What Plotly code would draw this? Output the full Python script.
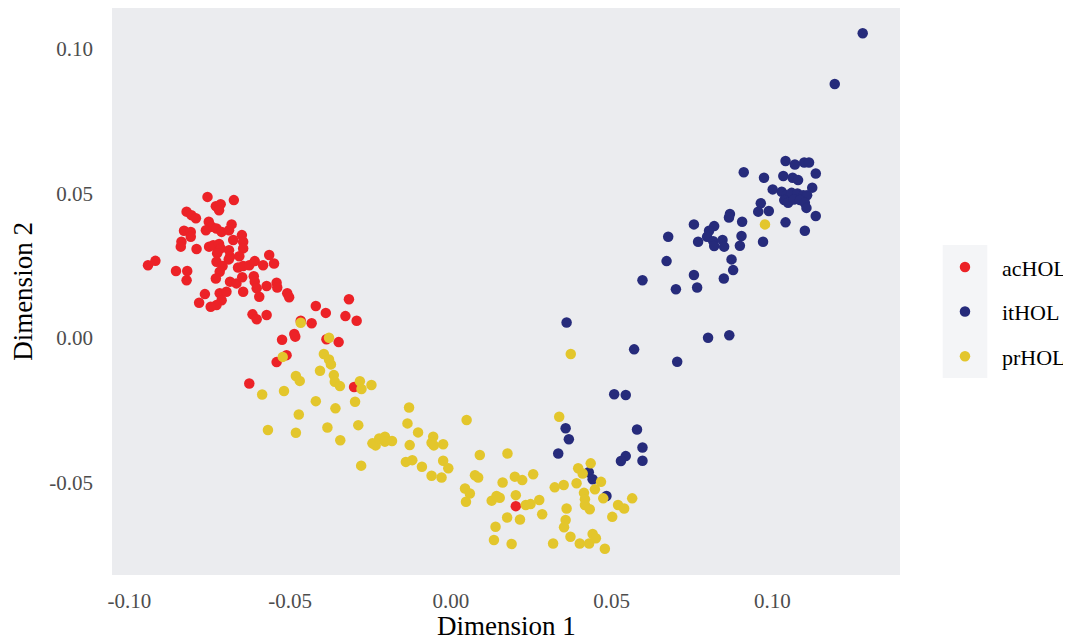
import plotly.graph_objects as go

# ---- data (Dimension 1, Dimension 2) ----
ac_x = [-0.0757, -0.0675, -0.0731, -0.0716, -0.0721, -0.0822, -0.0807, -0.0793, -0.0753, -0.0744,
        -0.0762, -0.0729, -0.0713, -0.0690, -0.0682, -0.0830, -0.0809, -0.0809, -0.0838, -0.0840,
        -0.0791, -0.0752, -0.0739, -0.0721, -0.0716, -0.0727, -0.0690, -0.0687, -0.0691, -0.0677,
        -0.0650, -0.0646, -0.0646, -0.0942, -0.0919, -0.0855, -0.0820, -0.0822, -0.0729, -0.0710,
        -0.0719, -0.0731, -0.0658, -0.0662, -0.0646, -0.0627, -0.0610, -0.0584, -0.0565, -0.0550,
        -0.0687, -0.0667, -0.0649, -0.0646, -0.0613, -0.0610, -0.0604, -0.0596, -0.0573, -0.0542,
        -0.0540, -0.0509, -0.0503, -0.0765, -0.0783, -0.0719, -0.0698, -0.0713, -0.0729, -0.0747,
        -0.0617, -0.0604, -0.0573, -0.0420, -0.0389, -0.0317, -0.0328, -0.0293, -0.0433, -0.0467,
        -0.0487, -0.0484, -0.0525, -0.0349, -0.0387, -0.0511, -0.0542, -0.0627, -0.0301, 0.0202]
ac_y = [0.0488, 0.0477, 0.0456, 0.0463, 0.0442, 0.0437, 0.0425, 0.0414, 0.0402, 0.0385,
        0.0373, 0.0379, 0.0367, 0.0373, 0.0393, 0.0371, 0.0367, 0.0350, 0.0333, 0.0316,
        0.0308, 0.0316, 0.0321, 0.0325, 0.0310, 0.0293, 0.0304, 0.0281, 0.0272, 0.0339,
        0.0356, 0.0333, 0.0310, 0.0252, 0.0267, 0.0232, 0.0232, 0.0200, 0.0264, 0.0249,
        0.0229, 0.0206, 0.0283, 0.0244, 0.0249, 0.0252, 0.0266, 0.0252, 0.0287, 0.0258,
        0.0195, 0.0189, 0.0210, 0.0160, 0.0214, 0.0195, 0.0172, 0.0143, 0.0180, 0.0191,
        0.0175, 0.0155, 0.0141, 0.0152, 0.0122, 0.0155, 0.0160, 0.0131, 0.0114, 0.0108,
        0.0082, 0.0065, 0.0080, 0.0111, 0.0087, 0.0134, 0.0076, 0.0060, 0.0051, 0.0060,
        0.0014, 0.0005, -0.0006, -0.0014, -0.0004, -0.0059, -0.0083, -0.0157, -0.0169, -0.0581]

it_x = [0.0360, 0.0570, 0.0704, 0.0508, 0.0544, 0.0357, 0.0367, 0.0334, 0.0579, 0.0596,
        0.0596, 0.0544, 0.0529, 0.0429, 0.0441, 0.0484, 0.1041, 0.1070, 0.1099, 0.1114,
        0.0911, 0.0974, 0.1034, 0.1063, 0.1080, 0.1135, 0.1001, 0.1029, 0.1044, 0.1060,
        0.1078, 0.1096, 0.1108, 0.1124, 0.1037, 0.1049, 0.1067, 0.1086, 0.1101, 0.1106,
        0.1135, 0.0964, 0.0956, 0.0989, 0.1041, 0.1101, 0.0868, 0.0865, 0.0906, 0.0756,
        0.0819, 0.0803, 0.0797, 0.0676, 0.0769, 0.0816, 0.0819, 0.0845, 0.0850, 0.0904,
        0.0899, 0.0971, 0.0873, 0.0878, 0.0849, 0.0671, 0.0596, 0.0700, 0.0756, 0.0766,
        0.0800, 0.0866, 0.1194, 0.1281]
it_y = [0.0054, -0.0039, -0.0082, -0.0194, -0.0197, -0.0312, -0.0350, -0.0399, -0.0316, -0.0378,
        -0.0424, -0.0408, -0.0425, -0.0464, -0.0488, -0.0546, 0.0612, 0.0600, 0.0607, 0.0607,
        0.0573, 0.0554, 0.0560, 0.0554, 0.0546, 0.0569, 0.0514, 0.0506, 0.0494, 0.0502,
        0.0500, 0.0494, 0.0494, 0.0520, 0.0477, 0.0468, 0.0479, 0.0477, 0.0468, 0.0450,
        0.0422, 0.0466, 0.0437, 0.0439, 0.0400, 0.0371, 0.0429, 0.0417, 0.0402, 0.0393,
        0.0387, 0.0371, 0.0350, 0.0350, 0.0333, 0.0335, 0.0318, 0.0339, 0.0316, 0.0353,
        0.0319, 0.0333, 0.0272, 0.0235, 0.0206, 0.0266, 0.0200, 0.0169, 0.0218, 0.0175,
        0.0001, 0.0010, 0.0878, 0.1054]

pr_x = [-0.0467, -0.0379, -0.0523, -0.0395, -0.0379, -0.0373, -0.0407, -0.0482, -0.0470, -0.0364,
        -0.0361, -0.0345, -0.0283, -0.0278, -0.0247, -0.0587, -0.0519, -0.0420, -0.0298, -0.0359,
        -0.0473, -0.0130, -0.0135, -0.0102, -0.0288, -0.0384, -0.0569, -0.0482, -0.0344, -0.0244,
        -0.0234, -0.0223, -0.0205, -0.0205, -0.0183, -0.0128, -0.0055, -0.0060, -0.0053, -0.0024,
        -0.0140, -0.0120, -0.0090, -0.0024, -0.0008, -0.0279, -0.0060, -0.0029, 0.0049, 0.0090,
        0.0176, 0.0075, 0.0085, 0.0044, 0.0059, 0.0047, 0.0127, 0.0142, 0.0152, 0.0161,
        0.0199, 0.0222, 0.0256, 0.0202, 0.0233, 0.0248, 0.0275, 0.0284, 0.0175, 0.0215,
        0.0139, 0.0134, 0.0189, 0.0318, 0.0323, 0.0351, 0.0337, 0.0396, 0.0410, 0.0435,
        0.0391, 0.0414, 0.0417, 0.0417, 0.0432, 0.0448, 0.0467, 0.0474, 0.0360, 0.0357,
        0.0352, 0.0372, 0.0401, 0.0430, 0.0441, 0.0451, 0.0479, 0.0502, 0.0520, 0.0539,
        0.0564, 0.0373, 0.0977]
pr_y = [0.0053, 0.0001, -0.0065, -0.0055, -0.0074, -0.0091, -0.0113, -0.0131, -0.0148, -0.0128,
        -0.0151, -0.0166, -0.0149, -0.0176, -0.0162, -0.0195, -0.0183, -0.0218, -0.0220, -0.0243,
        -0.0264, -0.0240, -0.0295, -0.0326, -0.0301, -0.0309, -0.0318, -0.0327, -0.0353, -0.0364,
        -0.0371, -0.0347, -0.0341, -0.0358, -0.0356, -0.0370, -0.0341, -0.0362, -0.0371, -0.0367,
        -0.0428, -0.0422, -0.0445, -0.0424, -0.0450, -0.0441, -0.0476, -0.0482, -0.0283, -0.0404,
        -0.0399, -0.0474, -0.0482, -0.0520, -0.0537, -0.0566, -0.0562, -0.0546, -0.0552, -0.0499,
        -0.0479, -0.0491, -0.0471, -0.0543, -0.0577, -0.0574, -0.0560, -0.0609, -0.0620, -0.0627,
        -0.0652, -0.0698, -0.0712, -0.0710, -0.0516, -0.0508, -0.0272, -0.0450, -0.0468, -0.0433,
        -0.0502, -0.0535, -0.0557, -0.0577, -0.0592, -0.0523, -0.0497, -0.0554, -0.0589, -0.0629,
        -0.0654, -0.0687, -0.0710, -0.0710, -0.0677, -0.0692, -0.0728, -0.0618, -0.0577, -0.0589,
        -0.0554, -0.0055, 0.0393]

groups = ["acHOL", "itHOL", "prHOL"]
tick_vals = [-0.10, -0.05, 0.00, 0.05, 0.10]
tick_text = ["-0.10", "-0.05", "0.00", "0.05", "0.10"]

colors = {"acHOL": "#EC2227", "itHOL": "#262B7B", "prHOL": "#E3C62C"}
series = {"acHOL": (ac_x, ac_y), "itHOL": (it_x, it_y), "prHOL": (pr_x, pr_y)}

FONT = "Liberation Serif, Times New Roman, serif"

fig = go.Figure()
for g in groups:
    xs, ys = series[g]
    fig.add_trace(go.Scatter(
        x=xs, y=ys, mode="markers", name=g, legendgroup=g,
        marker=dict(size=10.5, color=colors[g], line=dict(width=0)),
    ))

# page body adds an 8px offset, so the figure is 8px smaller and margins shifted
fig.update_layout(
    width=1063, height=630,
    margin=dict(l=104, r=171, t=0, b=63, autoexpand=False),
    paper_bgcolor="white",
    plot_bgcolor="#EBECEF",
    font=dict(family=FONT, color="black"),
    showlegend=True,
    legend=dict(
        x=1.0355, xanchor="left", y=0.4644, yanchor="middle",
        bgcolor="rgba(0,0,0,0)", borderwidth=0,
        font=dict(family=FONT, size=22, color="black"),
        itemwidth=64, tracegroupgap=13, traceorder="grouped",
    ),
    shapes=[dict(type="rect", xref="paper", yref="paper",
                 x0=1.0542, x1=1.1108, y0=0.3474, y1=0.5820,
                 fillcolor="#F4F5F7", line=dict(width=0), layer="below")],
    annotations=[dict(text="Dimension 1", xref="paper", yref="paper", x=0.5, y=0,
                      xanchor="center", yanchor="top", yshift=-34, showarrow=False,
                      font=dict(family=FONT, size=27, color="black"))],
)

fig.update_xaxes(
    range=[-0.1054, 0.1397], tickvals=tick_vals, ticktext=tick_text,
    showgrid=False, zeroline=False, showline=False, ticks="", automargin=False,
    tickfont=dict(family=FONT, size=21, color="#4D4D4D"),
    ticklabelstandoff=11,
)
fig.update_yaxes(
    range=[-0.0819, 0.1141], tickvals=tick_vals, ticktext=tick_text,
    showgrid=False, zeroline=False, showline=False, ticks="", automargin=False,
    tickfont=dict(family=FONT, size=21, color="#4D4D4D"),
    ticklabelstandoff=18,
    title=dict(text="Dimension 2", font=dict(family=FONT, size=27, color="black"), standoff=10),
)

fig.write_html("out.html")
